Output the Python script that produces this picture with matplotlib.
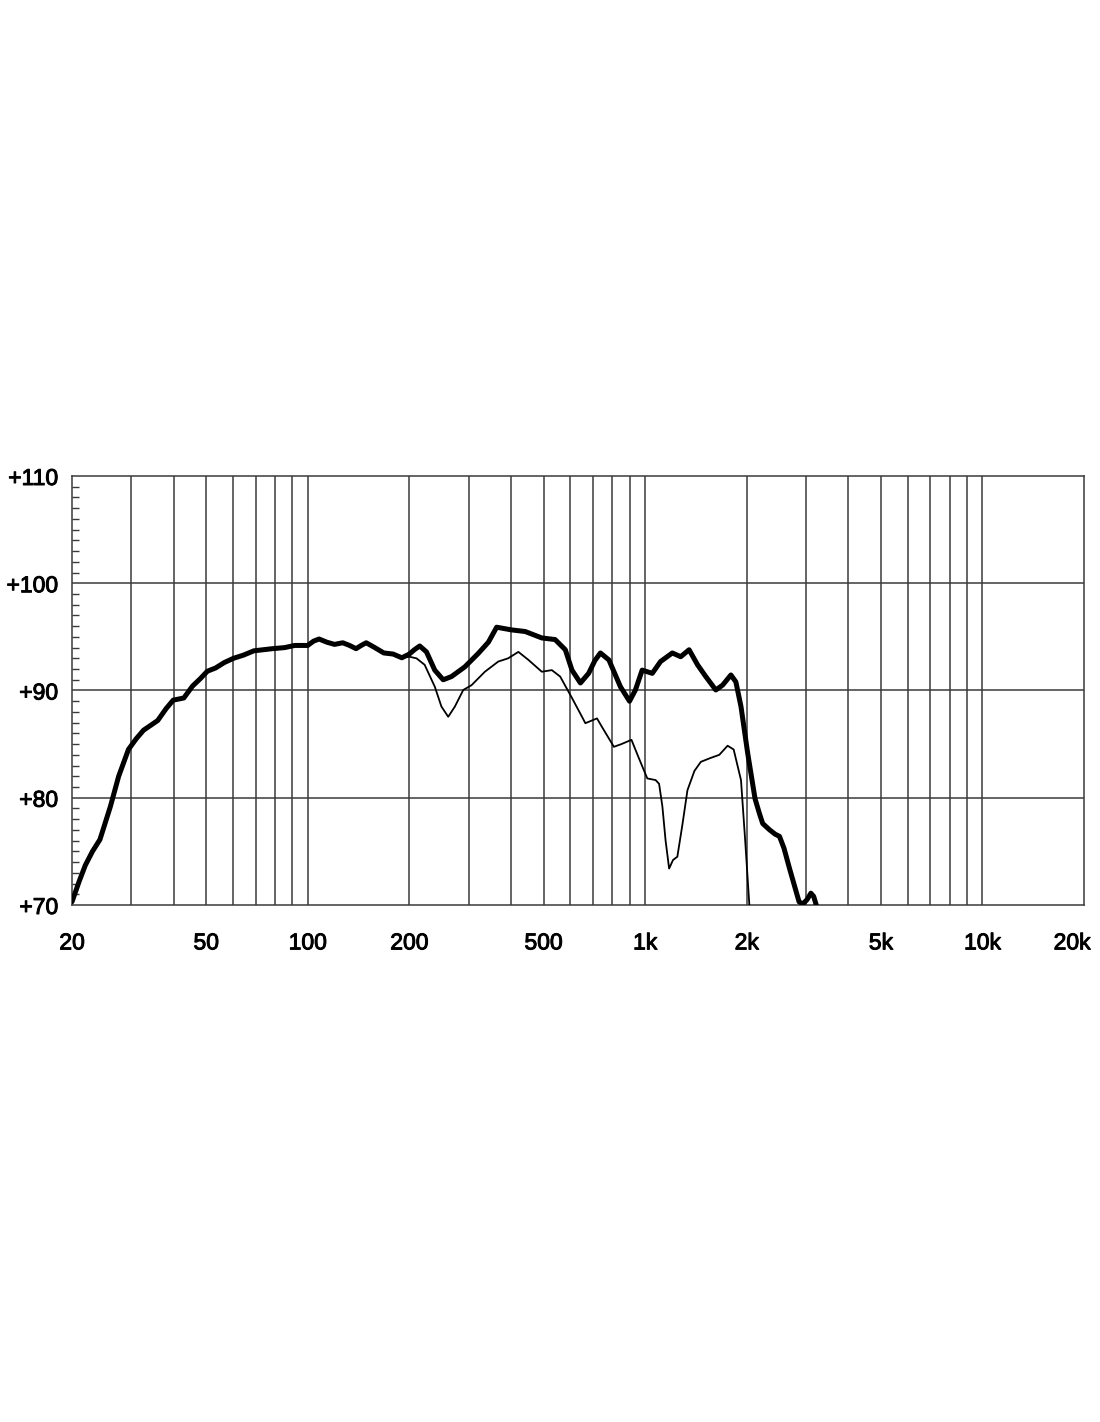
import matplotlib
matplotlib.use("Agg")
import matplotlib.pyplot as plt
import matplotlib.transforms as mtransforms
import matplotlib.patheffects as pe
from matplotlib.ticker import FixedLocator, NullFormatter

# ---- data ----
thick_freq = [20, 21.0, 21.9, 23.0, 24.2, 25.0, 26.0, 27.5, 29.4, 31.0, 32.6, 35.9, 38.0, 39.9,
              42.9, 45.5, 48.0, 50.4, 53.3, 56.5, 60.2, 64.5, 69.2, 78.6, 85.4, 91.4, 99.9,
              104, 108, 114, 120, 127, 133, 139, 144, 149, 158, 168, 179, 190, 200, 207,
              214.7, 224.8, 237.9, 252, 266.7, 292, 320, 343, 363, 402, 441, 494, 541, 580,
              607, 643, 680, 710, 737, 781, 845, 899, 936, 980, 1050, 1111, 1204, 1275, 1350,
              1430, 1513, 1620, 1697, 1796, 1858, 1924, 2014, 2118, 2181, 2231, 2340, 2430,
              2502, 2580, 2680, 2860, 2935, 3020, 3100, 3160, 3216]
thick_db = [70.3, 72.2, 73.7, 75.0, 76.1, 77.5, 79.2, 82.0, 84.5, 85.5, 86.3, 87.2, 88.3, 89.1,
            89.3, 90.4, 91.1, 91.8, 92.1, 92.6, 93.0, 93.3, 93.7, 93.9, 94.0, 94.2, 94.2,
            94.6, 94.8, 94.5, 94.3, 94.45, 94.2, 93.9, 94.2, 94.45, 94.0, 93.5, 93.4, 93.05, 93.4, 93.8,
            94.15, 93.6, 91.9, 91.0, 91.3, 92.2, 93.45, 94.5, 95.9, 95.65, 95.5, 94.9, 94.75, 93.8,
            91.9, 90.7, 91.6, 92.8, 93.5, 92.85, 90.35, 89.0, 90.05, 91.9, 91.6, 92.7, 93.5, 93.15, 93.8,
            92.4, 91.3, 90.05, 90.5, 91.45, 90.8, 88.5, 84.15, 79.9, 78.55, 77.6, 77.0, 76.6,
            76.4, 75.3, 73.4, 70.3, 70.1, 70.5, 71.1, 70.8, 70.0]

thin_freq = [190, 200, 210, 222, 238, 249, 260.8, 272.9, 289, 305.9, 335, 367, 392.6, 421, 451,
             494, 529, 560, 607, 650, 665, 720, 745, 808, 850, 911, 958, 1015, 1074, 1100, 1125,
             1150, 1178, 1210, 1246, 1290, 1335, 1400, 1463, 1560, 1659, 1756, 1830, 1924, 1980,
             2037]
thin_db = [93.05, 93.15, 93.0, 92.4, 90.35, 88.5, 87.55, 88.5, 90.05, 90.5, 91.75, 92.7, 93.0, 93.6,
           92.85, 91.75, 91.9, 91.3, 89.3, 87.55, 86.95, 87.4, 86.6, 84.75, 85.0, 85.4, 83.7, 81.8,
           81.65, 81.3, 79.2, 76.0, 73.4, 74.2, 74.5, 77.5, 80.7, 82.5, 83.35, 83.7, 84.0, 84.85,
           84.5, 81.65, 76.0, 70.0]

x_ticks = [20, 50, 100, 200, 500, 1000, 2000, 5000, 10000, 20000]
x_labels = ["20", "50", "100", "200", "500", "1k", "2k", "5k", "10k", "20k"]
y_ticks = [70, 80, 90, 100, 110]
y_labels = ["+70", "+80", "+90", "+100", "+110"]
grid_freqs = [30, 40, 50, 60, 70, 80, 90, 100, 200, 300, 400, 500, 600, 700, 800, 900,
              1000, 2000, 3000, 4000, 5000, 6000, 7000, 8000, 9000, 10000]

# ---- figure ----
plt.rcParams['font.family'] = ['Liberation Sans', 'DejaVu Sans']
fig = plt.figure(figsize=(11, 14.22), dpi=100)
ax = fig.add_axes([72 / 1100, 517 / 1422, 1012 / 1100, 429 / 1422])

gc = "#3a3a3a"
ax.set_xscale("log")
ax.set_xlim(20, 20000)
ax.set_ylim(70, 110)

for f in grid_freqs:
    ax.axvline(f, color=gc, lw=1.1, zorder=1)
for v in y_ticks[1:-1]:
    ax.axhline(v, color=gc, lw=1.1, zorder=1)

ax.plot(thin_freq, thin_db, color="black", lw=1.3, zorder=3, solid_joinstyle="round")
ax.plot(thick_freq, thick_db, color="black", lw=3.6, zorder=4, solid_joinstyle="round",
        solid_capstyle="round")

ax.xaxis.set_major_locator(FixedLocator(x_ticks))
ax.set_xticklabels(x_labels)
ax.xaxis.set_minor_locator(FixedLocator([]))
ax.xaxis.set_minor_formatter(NullFormatter())
ax.set_yticks(y_ticks)
ax.set_yticklabels(y_labels)
ax.yaxis.set_minor_locator(FixedLocator([v for v in range(71, 110) if v % 10]))
ax.tick_params(axis="x", which="both", length=0, pad=19, labelsize=16.5)
ax.tick_params(axis="y", which="major", length=0, pad=10, labelsize=16.5)
ax.tick_params(axis="y", which="minor", direction="in", length=5, width=1.0, color=gc,
               right=False)

stroke = [pe.withStroke(linewidth=0.7, foreground="black")]
for lab in ax.get_xticklabels() + ax.get_yticklabels():
    lab.set_path_effects(stroke)
last = ax.get_xticklabels()[-1]
last.set_transform(last.get_transform() + mtransforms.ScaledTranslation(-0.12, 0, fig.dpi_scale_trans))

for s in ax.spines.values():
    s.set_color(gc)
    s.set_linewidth(1.1)

fig.savefig("out.png", dpi=100, facecolor="white")
